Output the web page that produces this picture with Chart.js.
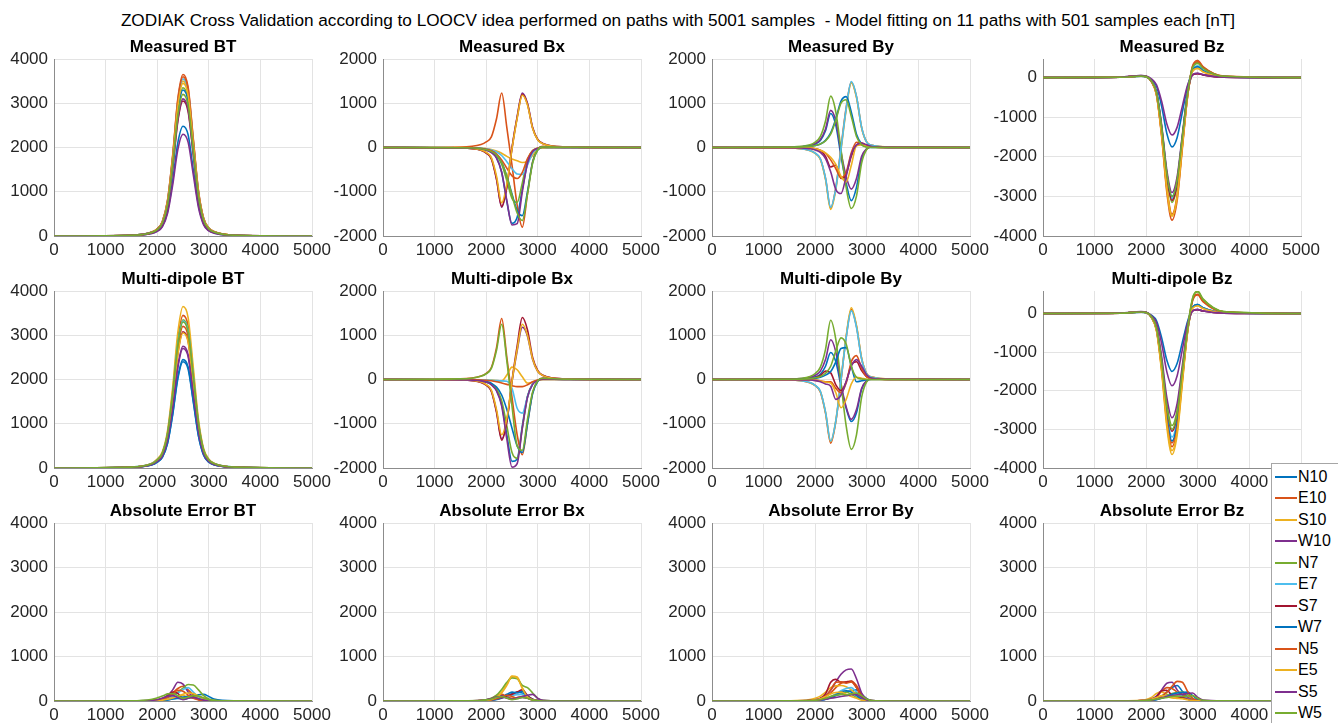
<!DOCTYPE html>
<html><head><meta charset="utf-8">
<script src="https://cdn.jsdelivr.net/npm/chart.js@4.4.1/dist/chart.umd.min.js"></script>
<style>
html,body{margin:0;padding:0;background:#fff;width:1338px;height:723px;overflow:hidden;font-family:"Liberation Sans",Arial,sans-serif;}
#title{position:absolute;left:0;width:1356px;top:10px;text-align:center;font-size:17.2px;line-height:20px;color:#000;white-space:pre;}
canvas{position:absolute;}
#legend{position:absolute;left:1271px;top:463px;width:72px;height:272px;background:#fff;border:1px solid #a6a6a6;box-sizing:border-box;z-index:5;}
.li{position:absolute;left:0;height:21px;width:70px;font-size:16px;line-height:21px;color:#000;}
.sw{position:absolute;left:3px;top:10px;width:22px;height:2px;}
.tx{position:absolute;left:26px;top:0;}
</style></head><body>
<div id="title">ZODIAK Cross Validation according to LOOCV idea performed on paths with 5001 samples  - Model fitting on 11 paths with 501 samples each [nT]</div>
<div id="legend"></div>
<script>
const xSamples = [0,1500,1900,2000,2100,2200,2300,2400,2500,2600,2700,2800,2900,3000,3100,3500,5000];
const xTicks = [0,1000,2000,3000,4000,5000];
const yTicksBT = [0,1000,2000,3000,4000];
const yTicksB = [-2000,-1000,0,1000,2000];
const yTicksBz = [-4000,-3000,-2000,-1000,0];
const seriesNames = ['N10','E10','S10','W10','N7','E7','S7','W7','N5','E5','S5','W5'];
const seriesColors = ['#0072BD','#D95319','#EDB120','#7E2F8E','#77AC30','#4DBEEE','#A2142F','#0072BD','#D95319','#EDB120','#7E2F8E','#77AC30'];

const measBT = [
[0,12,62,112,223,546,1240,2108,2480,2282,1488,694,273,124,69,12,0],
[0,18,91,164,329,803,1825,3103,3650,3358,2190,1022,402,183,102,18,0],
[0,18,88,158,315,770,1750,2975,3500,3220,2100,980,385,175,98,18,0],
[0,12,58,104,207,506,1150,1955,2300,2116,1380,644,253,115,64,12,0],
[0,17,84,151,302,737,1675,2848,3350,3082,2010,938,369,168,94,17,0],
[0,18,89,160,320,781,1775,3018,3550,3266,2130,994,391,178,99,18,0],
[0,15,76,137,275,671,1525,2593,3050,2806,1830,854,336,153,85,15,0],
[0,17,83,149,297,726,1650,2805,3300,3036,1980,924,363,165,92,17,0],
[0,18,90,162,324,792,1800,3060,3600,3312,2160,1008,396,180,101,18,0],
[0,17,86,155,311,759,1725,2933,3450,3174,2070,966,380,173,97,17,0],
[0,16,78,140,279,682,1550,2635,3100,2852,1860,868,341,155,87,16,0],
[0,16,80,144,288,704,1600,2720,3200,2944,1920,896,352,160,90,16,0]];

const measBx = [
[0,-9,-26,-53,-105,-228,-560,-1225,-1715,-1575,-945,-368,-105,-35,-10,-3,0],
[0,12,70,127,240,650,1230,450,-400,-1300,-1800,-1050,-320,-40,25,5,0],
[0,-3,-15,-25,-45,-80,-130,-200,-260,-300,-340,-310,-180,-40,-10,0,0],
[0,-10,-60,-120,-250,-700,-1350,-900,0,700,1230,1000,450,180,90,15,0],
[0,-8,-30,-50,-90,-180,-380,-750,-1150,-1240,-800,-280,-70,-15,10,3,0],
[0,-4,-18,-30,-55,-100,-180,-320,-480,-600,-610,-400,-120,-20,5,0,0],
[0,-10,-62,-125,-260,-720,-1330,-880,-20,680,1200,980,440,175,88,14,0],
[0,-6,-25,-45,-80,-160,-330,-650,-1050,-1420,-1540,-1000,-330,-50,15,4,0],
[0,-5,-22,-40,-75,-150,-280,-470,-640,-700,-560,-250,-70,-10,5,0,0],
[0,-9,-55,-110,-230,-650,-1250,-820,-30,660,1180,960,430,170,85,14,0],
[0,-10,-30,-60,-115,-240,-560,-1200,-1750,-1720,-1000,-350,-90,-20,10,3,0],
[0,-7,-28,-50,-90,-170,-340,-660,-1080,-1480,-1650,-1050,-350,-50,15,4,0]];

const measBy = [
[0,8,40,80,160,380,770,500,-200,-800,-1200,-900,-250,-30,15,3,0],
[0,-12,-70,-130,-260,-700,-1370,-900,0,900,1480,1150,450,120,50,8,0],
[0,-12,-72,-135,-270,-720,-1400,-950,-60,850,1460,1130,440,115,48,8,0],
[0,9,45,90,180,420,840,600,-100,-650,-940,-700,-200,-25,15,3,0],
[0,12,60,120,250,600,1160,800,-50,-900,-1380,-1100,-350,-40,20,4,0],
[0,-11,-68,-128,-255,-690,-1350,-920,-30,880,1490,1160,455,118,50,8,0],
[0,-3,-15,-30,-70,-200,-440,-400,-700,-600,-200,60,90,40,15,2,0],
[0,6,25,45,80,160,330,650,1050,1150,800,300,80,15,3,0,0],
[0,-3,-15,-30,-60,-130,-280,-480,-680,-560,-120,120,100,40,15,2,0],
[0,-3,-15,-30,-60,-120,-220,-380,-650,-780,-400,40,60,20,5,0,0],
[0,-6,-30,-55,-110,-250,-550,-950,-1040,-650,-150,60,100,60,20,3,0],
[0,6,25,45,80,150,300,620,1000,1080,700,250,60,10,2,0,0]];

const measBz = [
[0,8,40,25,-50,-220,-730,-1410,-1750,-1510,-875,-240,190,270,175,25,0],
[0,10,45,30,-100,-450,-1500,-2900,-3600,-3100,-1800,-500,300,430,280,40,0],
[0,9,40,25,-98,-438,-1460,-2820,-3500,-3010,-1750,-490,160,230,150,22,0],
[0,12,55,40,-30,-180,-600,-1170,-1450,-1250,-725,-200,70,100,70,12,0],
[0,9,42,28,-88,-394,-1310,-2540,-3150,-2710,-1575,-440,265,380,250,35,0],
[0,9,40,26,-85,-380,-1270,-2460,-3050,-2630,-1525,-425,210,300,195,27,0],
[0,9,40,26,-87,-388,-1290,-2500,-3100,-2670,-1550,-430,70,100,70,10,0],
[0,8,38,25,-84,-375,-1250,-2420,-3000,-2580,-1500,-420,190,270,175,25,0],
[0,9,42,28,-96,-430,-1440,-2780,-3450,-2970,-1725,-480,280,400,260,36,0],
[0,9,41,27,-97,-435,-1450,-2800,-3480,-3000,-1740,-485,165,235,150,22,0],
[0,11,50,35,-80,-362,-1210,-2340,-2900,-2500,-1450,-400,78,110,75,11,0],
[0,8,38,25,-84,-375,-1250,-2420,-3000,-2580,-1500,-420,250,360,235,33,0]];

const modelBT = [
[0,15,74,135,245,564,1225,2058,2450,2279,1519,735,294,135,74,15,0],
[0,21,104,190,345,794,1725,2898,3450,3209,2139,1035,414,190,104,21,0],
[0,22,110,201,365,840,1825,3066,3650,3395,2263,1095,438,201,110,22,0],
[0,17,83,151,275,633,1375,2310,2750,2558,1705,825,330,151,83,17,0],
[0,20,101,184,335,771,1675,2814,3350,3116,2077,1005,402,184,101,20,0],
[0,20,100,183,332,764,1660,2789,3320,3088,2058,996,398,183,100,20,0],
[0,18,92,169,308,708,1540,2587,3080,2864,1910,924,370,169,92,18,0],
[0,14,72,132,240,552,1200,2016,2400,2232,1488,720,288,132,72,14,0],
[0,19,96,176,320,736,1600,2688,3200,2976,1984,960,384,176,96,19,0],
[0,18,92,168,305,702,1525,2562,3050,2837,1891,915,366,168,92,18,0],
[0,16,81,149,270,621,1350,2268,2700,2511,1674,810,324,149,81,16,0],
[0,20,99,182,330,759,1650,2772,3300,3069,2046,990,396,182,99,20,0]];

const modelBx = [
[0,-8,-30,-55,-110,-240,-560,-1250,-1850,-1800,-1050,-380,-100,-25,10,3,0],
[0,14,80,140,270,720,1380,500,-400,-1250,-1700,-1000,-300,-30,30,6,0],
[0,0,-5,-10,-15,-25,-30,100,280,220,60,-80,-60,-10,0,0,0],
[0,-10,-60,-120,-260,-720,-1340,-950,-50,650,1180,980,450,180,90,15,0],
[0,-8,-30,-55,-100,-210,-480,-1050,-1650,-1780,-1100,-400,-100,-20,10,3,0],
[0,-2,-8,-12,-18,-25,-30,-40,-200,-650,-760,-400,-100,-20,0,0,0],
[0,-11,-65,-130,-270,-740,-1370,-950,-30,760,1400,1120,500,200,95,15,0],
[0,-6,-25,-45,-85,-170,-350,-680,-1100,-1500,-1650,-1000,-320,-40,20,5,0],
[0,-2,-10,-20,-30,-50,-80,-110,-140,-160,-160,-120,-50,-10,0,0,0],
[0,-10,-58,-115,-240,-680,-1250,-880,-40,680,1250,1000,460,180,88,14,0],
[0,-9,-32,-60,-120,-260,-600,-1350,-1980,-1900,-1100,-400,-110,-25,10,3,0],
[0,13,75,130,250,660,1250,420,-600,-1500,-1600,-900,-280,-30,28,5,0]];

const modelBy = [
[0,6,32,60,120,300,610,400,-150,-650,-950,-750,-220,-30,15,3,0],
[0,-12,-75,-140,-280,-760,-1440,-950,-20,950,1580,1200,470,125,55,8,0],
[0,-12,-72,-135,-270,-740,-1400,-920,0,980,1620,1220,480,128,55,8,0],
[0,9,48,95,190,450,900,620,-100,-620,-900,-680,-200,-25,12,3,0],
[0,13,70,135,280,680,1340,900,-80,-1050,-1580,-1250,-400,-45,20,4,0],
[0,-11,-70,-132,-265,-730,-1390,-930,-10,940,1550,1180,460,122,52,8,0],
[0,2,15,40,90,190,150,-120,-250,-50,330,400,200,60,20,3,0],
[0,4,15,28,50,100,180,400,700,720,300,-50,-30,-5,0,0,0],
[0,-2,-8,-15,-30,-50,-50,-200,-300,-80,400,540,250,60,20,3,0],
[0,-2,-10,-20,-35,-60,-80,-300,-640,-450,-100,50,30,5,0,0,0],
[0,-2,-12,-25,-50,-100,-150,-450,-350,-50,300,450,300,100,30,5,0],
[0,5,20,38,70,140,300,650,940,800,300,50,10,0,0,0,0]];

const modelBz = [
[0,7,35,20,-45,-190,-630,-1210,-1500,-1290,-750,-210,160,230,150,21,0],
[0,9,42,28,-94,-420,-1400,-2700,-3350,-2880,-1675,-465,350,500,325,45,0],
[0,10,45,30,-102,-456,-1520,-2940,-3650,-3140,-1825,-505,140,200,130,18,0],
[0,10,48,32,-52,-234,-780,-1510,-1870,-1610,-935,-260,70,100,65,10,0],
[0,8,38,25,-81,-362,-1210,-2340,-2900,-2500,-1450,-400,405,580,380,52,0],
[0,9,40,26,-90,-400,-1335,-2580,-3200,-2755,-1600,-445,160,230,150,21,0],
[0,9,40,26,-85,-380,-1270,-2460,-3050,-2630,-1525,-425,70,100,65,10,0],
[0,9,40,26,-92,-412,-1375,-2660,-3300,-2840,-1650,-460,160,230,150,21,0],
[0,9,42,28,-96,-430,-1440,-2780,-3450,-2970,-1725,-480,335,480,310,43,0],
[0,10,44,29,-99,-444,-1480,-2860,-3550,-3060,-1775,-495,140,200,130,18,0],
[0,10,46,32,-75,-338,-1125,-2180,-2700,-2325,-1350,-375,70,100,65,10,0],
[0,8,38,25,-84,-375,-1250,-2420,-3000,-2580,-1500,-420,390,560,365,50,0]];

const errBT = [
[0,0,3,5,10,25,50,60,40,60,110,140,150,100,45,5,0],
[0,2,10,20,40,90,180,280,330,250,140,60,25,10,5,0,0],
[0,1,5,10,20,45,80,120,130,80,70,100,70,30,10,0,0],
[0,3,15,30,60,120,250,420,380,200,90,40,15,5,2,0,0],
[0,2,12,25,45,80,130,200,290,370,360,250,120,45,15,2,0],
[0,1,6,12,25,50,100,180,260,300,200,90,30,10,3,0,0],
[0,2,10,20,50,120,200,170,60,110,90,40,15,5,2,0,0],
[0,0,3,6,12,25,45,70,90,100,70,35,15,5,2,0,0],
[0,2,10,20,40,80,150,240,220,130,60,25,10,3,1,0,0],
[0,1,5,10,20,40,70,110,150,180,170,110,50,15,5,0,0],
[0,2,15,30,60,110,120,80,30,60,80,50,20,8,3,0,0],
[0,5,40,70,110,160,170,120,60,90,120,110,70,30,10,2,0]];

const errBx = [
[0,1,5,10,20,50,90,130,160,200,180,100,40,10,3,0,0],
[0,2,10,20,50,120,150,100,60,80,100,60,20,5,1,0,0],
[0,2,10,20,40,90,200,380,560,540,300,100,30,8,2,0,0],
[0,2,12,25,50,90,120,80,40,60,80,60,25,8,2,0,0],
[0,3,15,30,60,130,260,420,520,500,350,300,180,60,15,2,0],
[0,1,4,8,15,30,60,100,130,140,150,80,25,5,1,0,0],
[0,1,5,10,20,40,70,110,150,200,250,120,40,10,2,0,0],
[0,1,5,10,20,40,80,150,200,180,220,100,30,8,2,0,0],
[0,1,6,12,25,50,90,130,100,60,100,70,25,5,1,0,0],
[0,2,9,18,35,80,180,350,550,520,280,90,25,6,1,0,0],
[0,2,15,30,55,90,100,60,40,70,100,130,150,60,15,2,0],
[0,2,12,25,45,80,100,70,30,50,80,60,20,5,1,0,0]];

const errBy = [
[0,1,5,10,20,40,80,120,150,200,230,250,150,50,10,1,0],
[0,2,10,20,40,90,180,300,400,430,450,350,150,40,10,1,0],
[0,5,30,60,110,200,300,340,350,320,250,150,60,20,5,1,0],
[0,3,15,30,60,120,240,430,600,700,720,500,180,40,8,1,0],
[0,1,6,12,25,50,100,150,180,200,150,80,30,8,2,0,0],
[0,1,5,10,20,40,80,150,230,280,300,200,80,20,5,0,0],
[0,2,12,25,60,160,420,490,420,420,440,300,100,20,5,0,0],
[0,1,5,10,20,40,80,140,200,230,200,120,40,10,2,0,0],
[0,2,10,20,45,110,250,420,430,400,430,300,100,20,5,0,0],
[0,2,12,25,50,100,160,190,200,150,100,60,20,5,1,0,0],
[0,1,5,10,20,40,60,80,100,120,140,150,80,20,5,0,0],
[0,2,8,15,30,60,100,130,150,140,160,180,120,40,10,1,0]];

const errBz = [
[0,1,5,10,20,50,110,200,300,350,220,90,30,8,2,0,0],
[0,2,10,20,40,100,220,300,280,200,150,80,30,8,2,0,0],
[0,3,15,35,80,170,200,150,100,80,60,40,15,4,1,0,0],
[0,2,10,20,45,110,250,400,420,250,120,60,20,5,1,0,0],
[0,1,5,10,20,40,80,130,170,190,200,150,60,15,3,0,0],
[0,1,4,8,15,35,70,110,140,150,100,50,15,4,1,0,0],
[0,1,8,15,35,90,230,240,130,100,80,40,15,4,1,0,0],
[0,1,4,8,15,30,60,100,150,180,190,200,120,30,5,0,0],
[0,1,6,12,25,55,110,200,330,440,420,220,60,12,3,0,0],
[0,2,10,20,40,80,120,100,70,60,50,30,10,3,1,0,0],
[0,1,5,10,20,40,70,100,120,140,150,170,180,80,20,2,0],
[0,1,6,12,25,45,60,80,100,110,100,110,120,60,15,2,0]];

const panelTitles = ['Measured BT','Measured Bx','Measured By','Measured Bz',
  'Multi-dipole BT','Multi-dipole Bx','Multi-dipole By','Multi-dipole Bz',
  'Absolute Error BT','Absolute Error Bx','Absolute Error By','Absolute Error Bz'];
const panelData = [measBT,measBx,measBy,measBz,modelBT,modelBx,modelBy,modelBz,errBT,errBx,errBy,errBz];
const panelYTicks = [yTicksBT,yTicksB,yTicksB,yTicksBz, yTicksBT,yTicksB,yTicksB,yTicksBz, yTicksBT,yTicksBT,yTicksBT,yTicksBT];
const yMin = [0,-2000,-2000,-4000, 0,-2000,-2000,-4000, 0,0,0,0];
const yMax = [4000,2000,2000,470, 4000,2000,2000,583, 4000,4000,4000,4000];

Chart.defaults.font.family = '"Liberation Sans", Arial, sans-serif';
const plotLeft = [54,383,712,1043];
const plotTop = [59,291,523];
const plotW = 258, yAxisW = 54, padR = 22, titleH = 26, xAxisH = 24;
const plotH = [177,177,178];

panelData.forEach((rows, p) => {
  const r = Math.floor(p/4), c = p % 4;
  const cv = document.createElement('canvas');
  const W = yAxisW + plotW + padR, H = titleH + plotH[r] + xAxisH;
  cv.width = W; cv.height = H;
  cv.style.left = (plotLeft[c]-yAxisW)+'px';
  cv.style.top = (plotTop[r]-titleH)+'px';
  cv.style.width = W+'px'; cv.style.height = H+'px';
  document.body.appendChild(cv);
  const datasets = rows.map((vals, i) => ({
    label: seriesNames[i],
    data: xSamples.map((x, k) => ({x: x, y: vals[k]})),
    borderColor: seriesColors[i],
    borderWidth: 1.6,
    pointRadius: 0,
    fill: false,
    cubicInterpolationMode: 'monotone',
    order: -i
  }));
  const yt = panelYTicks[p];
  new Chart(cv, {
    type: 'line',
    data: {datasets},
    options: {
      responsive: false, animation: false, devicePixelRatio: 1,
      layout: {padding: {left:0, top:0, right: padR, bottom:0}},
      plugins: {
        legend: {display: false},
        tooltip: {enabled: false},
        title: {display: true, text: panelTitles[p], fullSize: false, color: '#000',
          font: {size: 17, weight: 'bold', lineHeight: 1.2}, padding: {top: 4, bottom: 1.6}}
      },
      scales: {
        x: {type: 'linear', min: 0, max: 5000,
          ticks: {autoSkip: false, maxRotation: 0, font: {size: 17}, color: '#262626', padding: 4,
                  callback: v => String(v)},
          afterBuildTicks: s => { s.ticks = xTicks.map(v => ({value: v})); },
          grid: {color: '#e3e3e3', drawTicks: false},
          border: {color: '#8c8c8c', width: 1},
          afterFit: s => { s.height = xAxisH; s.paddingLeft = 0; s.paddingRight = 0; }
        },
        y: {min: yMin[p], max: yMax[p],
          ticks: {font: {size: 17}, color: '#262626', padding: 6, callback: v => String(v)},
          afterBuildTicks: s => { s.ticks = yt.map(v => ({value: v})); },
          grid: {color: '#e3e3e3', drawTicks: false},
          border: {color: '#8c8c8c', width: 1},
          afterFit: s => { s.width = yAxisW; s.paddingTop = 0; s.paddingBottom = 0; }
        }
      }
    }
  });
});

const lg = document.getElementById('legend');
seriesNames.forEach((n, i) => {
  const d = document.createElement('div');
  d.className = 'li';
  d.style.top = (2 + 21.45*i) + 'px';
  d.innerHTML = '<span class="sw" style="background:'+seriesColors[i]+'"></span><span class="tx">'+n+'</span>';
  lg.appendChild(d);
});
</script>
</body></html>
